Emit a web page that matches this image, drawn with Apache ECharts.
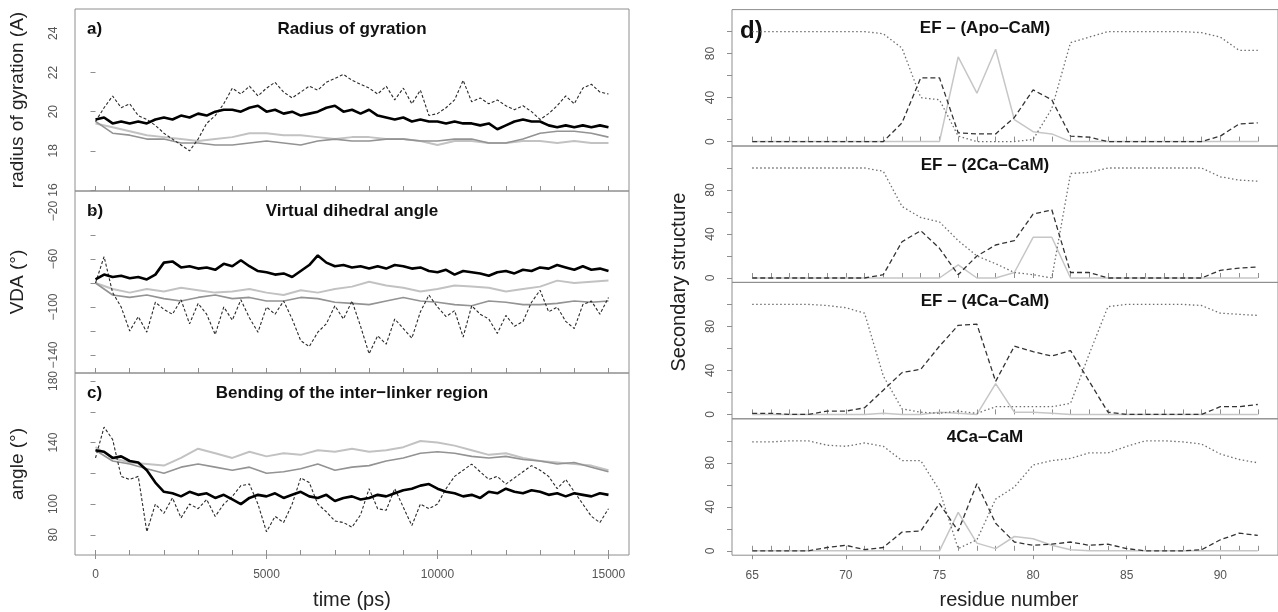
<!DOCTYPE html>
<html>
<head>
<meta charset="utf-8" />
<title>CaM dynamics</title>
<script src="https://cdn.jsdelivr.net/npm/echarts@6/dist/echarts.min.js"></script>
<style>
  html, body { margin: 0; padding: 0; background: #fff; }
  #main { width: 1278px; height: 612px; }
</style>
</head>
<body>
<div id="main"></div>
<script type="text/javascript">
// ---- time axis (ps) ----
var t500 = [0,500,1000,1500,2000,2500,3000,3500,4000,4500,5000,5500,6000,6500,7000,7500,
  8000,8500,9000,9500,10000,10500,11000,11500,12000,12500,13000,13500,14000,14500,15000];
var t250 = [0,250,500,750,1000,1250,1500,1750,2000,2250,2500,2750,3000,3250,3500,3750,
  4000,4250,4500,4750,5000,5250,5500,5750,6000,6250,6500,6750,7000,7250,7500,7750,
  8000,8250,8500,8750,9000,9250,9500,9750,10000,10250,10500,10750,11000,11250,11500,11750,
  12000,12250,12500,12750,13000,13250,13500,13750,14000,14250,14500,14750,15000];

// a) radius of gyration
var rgBlack = [19.6,19.7,19.4,19.5, 19.4,19.5,19.4,19.6, 19.7,19.6,19.8,19.7, 19.9,19.8,20.0,20.1,
  20.1,20.0,20.2,20.3, 20.0,20.1,19.9,20.0, 19.8,19.9,20.0,20.2, 20.3,20.0,20.1,19.9,
  20.1,19.8,19.7,19.6, 19.7,19.5,19.6,19.5, 19.5,19.4,19.5,19.4, 19.4,19.3,19.4,19.1,
  19.3,19.5,19.6,19.5, 19.5,19.3,19.2,19.3, 19.2,19.3,19.2,19.3, 19.2];
var rgWild = [19.5,20.2,20.8,20.2, 20.4,19.8,19.6,19.3, 18.9,18.6,18.3,18.0, 18.6,19.4,19.8,20.4,
  21.2,20.9,21.3,20.8, 21.2,21.5,21.0,20.7, 21.0,21.3,21.1,21.5, 21.7,21.9,21.6,21.4,
  21.2,20.9,21.3,20.6, 21.2,20.4,21.1,19.8, 19.9,20.2,20.6,21.6, 20.5,20.7,20.4,20.6,
  20.3,20.1,20.3,20.0, 19.6,19.9,20.3,20.8, 20.4,21.2,21.4,21.0, 20.9];
var rgLight = [19.4,19.2,19.0,18.8,18.7, 18.6,18.5,18.6,18.7,18.9, 18.9,18.8,18.8,18.7,18.6,
  18.7,18.7,18.6,18.6,18.5, 18.3,18.5,18.5,18.4,18.4, 18.5,18.5,18.4,18.5,18.4, 18.4];
var rgMid = [19.5,18.9,18.8,18.6,18.6, 18.4,18.4,18.3,18.3,18.4, 18.5,18.4,18.3,18.5,18.6,
  18.5,18.5,18.6,18.6,18.5, 18.5,18.6,18.6,18.4,18.4, 18.6,18.9,19.0,19.0,18.9, 18.7];

// b) virtual dihedral angle
var vdaBlack = [-77,-73,-75,-74, -76,-75,-77,-73, -63,-62,-67,-66, -68,-67,-69,-64,
  -66,-61,-66,-70, -71,-73,-72,-75, -70,-65,-57,-63, -66,-65,-67,-66,
  -68,-66,-68,-65, -66,-68,-67,-70, -71,-69,-73,-70, -71,-72,-74,-71,
  -70,-72,-69,-70, -67,-68,-65,-67, -69,-66,-69,-68, -70];
var vdaWild = [-80,-58,-88,-100, -120,-108,-121,-96, -102,-106,-94,-114, -97,-106,-123,-100,
  -111,-94,-109,-121, -100,-106,-95,-110, -128,-133,-121,-114, -99,-110,-95,-116,
  -139,-124,-131,-110, -118,-126,-104,-90, -100,-108,-103,-125, -99,-106,-110,-122,
  -107,-116,-112,-96, -86,-104,-100,-112, -118,-98,-95,-106, -92];
var vdaLight = [-80,-85,-88,-85,-87, -84,-86,-88,-87,-85, -88,-90,-86,-88,-85,
  -83,-79,-82,-84,-87, -85,-82,-83,-84,-87, -85,-83,-78,-80,-79, -78];
var vdaMid = [-80,-90,-92,-90,-93, -95,-92,-90,-93,-92, -95,-95,-92,-93,-96,
  -97,-98,-95,-92,-95, -96,-98,-99,-95,-96, -98,-98,-97,-95,-96, -95];

// c) bending of the inter-linker region
var angBlack = [135,134,130,131, 128,127,122,114, 108,107,105,108, 106,107,104,106,
  103,100,104,106, 105,107,104,106, 108,105,104,106, 102,104,105,103,
  104,106,105,107, 109,110,112,113, 110,108,107,105, 106,104,108,107,
  110,108,107,109, 108,106,107,105, 107,106,105,107, 106];
var angWild = [130,150,142,118, 116,118,82,100, 94,104,91,100, 97,103,92,100,
  105,112,113,100, 82,92,88,100, 117,114,100,95, 89,88,85,93,
  110,97,96,110, 98,86,100,97, 100,110,118,122, 126,121,116,118,
  113,117,121,125, 122,118,110,116, 108,100,92,88, 97];
var angLight = [137,130,127,126,125, 130,136,133,130,134, 131,133,132,135,134,
  136,134,135,137,141, 140,138,135,132,133, 130,128,127,126,125, 122];
var angMid = [135,128,126,123,120, 124,126,124,122,124, 120,121,123,126,122,
  124,125,128,130,133, 134,133,131,130,131, 129,128,126,127,124, 121];

// d) secondary structure per residue
var residues = [65,66,67,68,69,70,71,72,73,74,75,76,77,78,79,80,81,82,83,84,85,86,87,88,89,90,91,92];

var apoDotted = [100,100,100,100,100,100,100,98,85,40,38,5,0,0,0,2,30,90,95,100,100,100,100,100,99,95,83,83];
var apoDashed = [0,0,0,0,0,0,0,0,17,58,58,8,7,7,22,47,38,5,4,0,0,0,0,0,0,5,16,17];
var apoSolid  = [0,0,0,0,0,0,0,0,0,0,0,77,44,84,20,9,7,0,0,0,0,0,0,0,0,0,0,0];

var ca2Dotted = [100,100,100,100,100,100,100,97,65,55,51,34,20,13,5,3,0,95,96,100,100,100,100,100,100,92,89,88];
var ca2Dashed = [0,0,0,0,0,0,0,3,33,43,27,3,20,30,34,58,62,5,5,0,0,0,0,0,0,7,9,10];
var ca2Solid  = [0,0,0,0,0,0,0,0,0,0,0,12,0,0,5,37,37,0,0,0,0,0,0,0,0,0,0,0];

var ca4Dotted = [100,100,100,100,99,97,92,35,5,2,1,3,1,7,7,7,7,10,55,98,100,100,100,100,99,92,91,90];
var ca4Dashed = [1,1,0,0,3,3,6,22,38,41,62,81,82,30,62,57,53,58,30,2,0,0,0,0,0,7,7,9];
var ca4Solid  = [0,0,0,0,0,0,0,1,0,0,2,1,0,28,2,2,1,0,0,0,0,0,0,0,0,0,0,0];

var camDotted = [99,99,100,100,96,95,98,95,82,82,55,2,10,47,58,78,82,84,89,89,95,100,100,99,97,88,83,80];
var camDashed = [0,0,0,0,3,5,1,3,17,18,43,18,61,25,8,5,6,8,5,6,2,0,0,0,1,10,16,14];
var camSolid  = [0,0,0,0,0,0,0,0,0,0,0,35,7,2,13,11,5,1,0,0,0,0,0,0,0,0,0,0];

// tick positions / labels
var timeTicks = [0,1000,2000,3000,4000,5000,6000,7000,8000,9000,10000,11000,12000,13000,14000,15000];
var timeLabels = [0,5000,10000,15000];
var resTicks = residues;
var resLabels = [65,70,75,80,85,90];
var pctTicks = [0,20,40,60,80,100];
var pctLabels = [0,40,80];

var FONT = '"Liberation Sans", Arial, Helvetica, sans-serif';
var GRID_COL = '#8e8e8e';
var TICK_TXT = '#555';

function pairs(xs, ys) {
  return xs.map(function (x, i) { return [x, ys[i]]; });
}
function minus(v) { return String(v).replace('-', '\u2212'); }
function plain(v) { return String(v); }

var grids = [], xAxes = [], yAxes = [], series = [], graphics = [];

function addPanel(p) {
  var gi = grids.length;
  grids.push({ left: p.left, top: p.top, width: p.width, height: p.height,
    show: true, borderColor: GRID_COL, borderWidth: 1, backgroundColor: 'transparent' });
  var xi = xAxes.length;
  xAxes.push({
    gridIndex: gi, type: 'value', min: p.xmin, max: p.xmax, position: 'bottom',
    axisLine: { show: false }, splitLine: { show: false },
    axisTick: { show: true, inside: true, length: 5, customValues: p.xticks,
      lineStyle: { color: GRID_COL } },
    axisLabel: { show: false }
  });
  if (p.bottom) {
    xAxes.push({
      gridIndex: gi, type: 'value', min: p.xmin, max: p.xmax, position: 'bottom',
      axisLine: { show: false }, splitLine: { show: false },
      axisTick: { show: true, inside: false, length: 4, customValues: p.xlabels,
        lineStyle: { color: GRID_COL } },
      axisLabel: { show: true, customValues: p.xlabels, margin: 14, color: TICK_TXT,
        fontSize: 12, fontFamily: FONT, formatter: plain }
    });
  }
  var yi = yAxes.length;
  yAxes.push({
    gridIndex: gi, type: 'value', min: p.ymin, max: p.ymax,
    axisLine: { show: false }, splitLine: { show: false },
    axisTick: { show: true, inside: false, length: 5, customValues: p.yticks,
      lineStyle: { color: GRID_COL } },
    axisLabel: { show: true, customValues: p.ylabels, rotate: 90, margin: 15,
      color: TICK_TXT, fontSize: 12, fontFamily: FONT, formatter: minus }
  });
  p.lines.forEach(function (l) {
    series.push({
      type: 'line', xAxisIndex: xi, yAxisIndex: yi, data: l.data,
      showSymbol: false, symbol: 'none', animation: false, silent: true,
      lineStyle: { color: l.color, width: l.width, type: l.type || 'solid' }
    });
  });
}

// left column
var L = { left: 75, width: 554, height: 182, xmin: -600, xmax: 15600,
          xticks: timeTicks, xlabels: timeLabels };
var leftPanels = [
  { top: 9, ymin: 15.95, ymax: 25.24, yticks: [16,18,20,22,24], ylabels: [16,18,20,22,24],
    light: rgLight, mid: rgMid, wild: rgWild, black: rgBlack,
    title: 'Radius of gyration', tag: 'a)', name: 'radius of gyration (A)' },
  { top: 191, ymin: -155, ymax: -3.3, yticks: [-140,-120,-100,-80,-60,-40,-20], ylabels: [-140,-100,-60,-20],
    light: vdaLight, mid: vdaMid, wild: vdaWild, black: vdaBlack,
    title: 'Virtual dihedral angle', tag: 'b)', name: 'VDA (\u00b0)' },
  { top: 373, ymin: 66.9, ymax: 185.2, yticks: [80,100,120,140,160,180], ylabels: [80,100,140,180],
    light: angLight, mid: angMid, wild: angWild, black: angBlack,
    title: 'Bending of the inter\u2212linker region', tag: 'c)', name: 'angle (\u00b0)', bottom: true }
];
leftPanels.forEach(function (lp) {
  addPanel({
    left: L.left, top: lp.top, width: L.width, height: L.height,
    xmin: L.xmin, xmax: L.xmax, xticks: L.xticks, xlabels: L.xlabels, bottom: lp.bottom,
    ymin: lp.ymin, ymax: lp.ymax, yticks: lp.yticks, ylabels: lp.ylabels,
    lines: [
      { data: pairs(t500, lp.light), color: '#c2c2c2', width: 2 },
      { data: pairs(t500, lp.mid), color: '#939393', width: 1.6 },
      { data: pairs(t250, lp.wild), color: '#2a2a2a', width: 1.1, type: [3, 2] },
      { data: pairs(t250, lp.black), color: '#000', width: 2.6 }
    ]
  });
  graphics.push({ type: 'text', x: 352, y: lp.top + 20, style: { text: lp.title,
    font: 'bold 17px ' + FONT, fill: '#111', align: 'center', verticalAlign: 'middle',
    textAlign: 'center', textVerticalAlign: 'middle' } });
  graphics.push({ type: 'text', x: 87, y: lp.top + 20, style: { text: lp.tag,
    font: 'bold 17px ' + FONT, fill: '#111', align: 'left', verticalAlign: 'middle',
    textAlign: 'left', textVerticalAlign: 'middle' } });
  graphics.push({ type: 'text', x: 18, y: lp.top + 91, rotation: Math.PI / 2, style: { text: lp.name,
    font: '19px ' + FONT, fill: '#222', align: 'center', verticalAlign: 'middle',
    textAlign: 'center', textVerticalAlign: 'middle' } });
});

// right column
var R = { left: 732, width: 555, height: 136.4, xmin: 63.92, xmax: 93.08 };
var rightPanels = [
  { top: 9.6, dotted: apoDotted, dashed: apoDashed, solid: apoSolid, title: 'EF \u2013 (Apo\u2013CaM)' },
  { top: 146, dotted: ca2Dotted, dashed: ca2Dashed, solid: ca2Solid, title: 'EF \u2013 (2Ca\u2013CaM)' },
  { top: 282.4, dotted: ca4Dotted, dashed: ca4Dashed, solid: ca4Solid, title: 'EF \u2013 (4Ca\u2013CaM)' },
  { top: 418.8, dotted: camDotted, dashed: camDashed, solid: camSolid, title: '4Ca\u2013CaM', bottom: true }
];
rightPanels.forEach(function (rp) {
  addPanel({
    left: R.left, top: rp.top, width: R.width, height: R.height,
    xmin: R.xmin, xmax: R.xmax, xticks: resTicks, xlabels: resLabels, bottom: rp.bottom,
    ymin: -4, ymax: 120, yticks: pctTicks, ylabels: pctLabels,
    lines: [
      { data: pairs(residues, rp.solid), color: '#c6c6c6', width: 1.5 },
      { data: pairs(residues, rp.dotted), color: '#6e6e6e', width: 1.3, type: [1.5, 2.5] },
      { data: pairs(residues, rp.dashed), color: '#333', width: 1.3, type: [5, 3] }
    ]
  });
  graphics.push({ type: 'text', x: 985, y: rp.top + 19, style: { text: rp.title,
    font: 'bold 17px ' + FONT, fill: '#111', align: 'center', verticalAlign: 'middle',
    textAlign: 'center', textVerticalAlign: 'middle' } });
});
graphics.push({ type: 'text', x: 740, y: 31, style: { text: 'd)',
  font: 'bold 24px ' + FONT, fill: '#111', align: 'left', verticalAlign: 'middle',
  textAlign: 'left', textVerticalAlign: 'middle' } });
graphics.push({ type: 'text', x: 679, y: 282, rotation: Math.PI / 2, style: { text: 'Secondary structure',
  font: '20px ' + FONT, fill: '#222', align: 'center', verticalAlign: 'middle',
  textAlign: 'center', textVerticalAlign: 'middle' } });
graphics.push({ type: 'text', x: 352, y: 600, style: { text: 'time (ps)',
  font: '20px ' + FONT, fill: '#222', align: 'center', verticalAlign: 'middle',
  textAlign: 'center', textVerticalAlign: 'middle' } });
graphics.push({ type: 'text', x: 1009, y: 600, style: { text: 'residue number',
  font: '20px ' + FONT, fill: '#222', align: 'center', verticalAlign: 'middle',
  textAlign: 'center', textVerticalAlign: 'middle' } });

var myChart = echarts.init(document.getElementById('main'), null, { renderer: 'canvas' });
myChart.setOption({
  animation: false,
  backgroundColor: '#fff',
  grid: grids,
  xAxis: xAxes,
  yAxis: yAxes,
  series: series,
  graphic: { elements: graphics }
});
</script>
</body>
</html>
